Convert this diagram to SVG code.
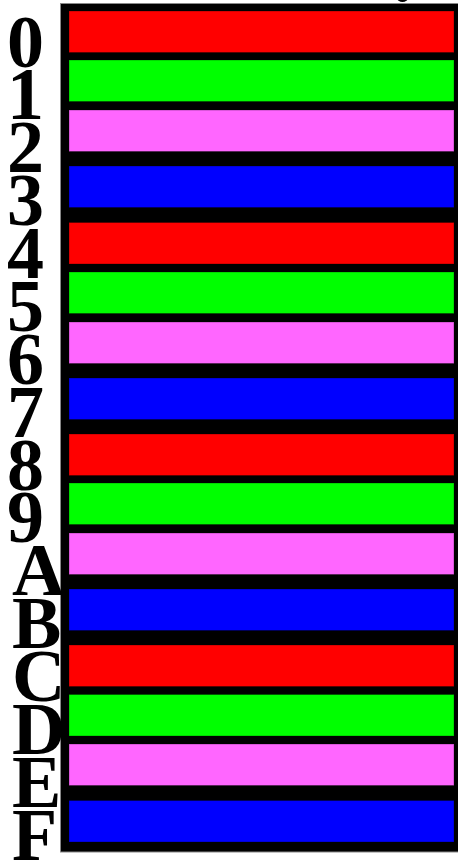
<svg xmlns="http://www.w3.org/2000/svg" width="458" height="864" viewBox="0 0 458 864">
<style>
.lbl{font-family:"Liberation Serif","Times New Roman",serif;font-weight:bold;font-size:74px;fill:#000}
.bar{stroke:#000;stroke-opacity:0.3;stroke-width:1}
.r{fill:#ff0000}.g{fill:#00ff00}.p{fill:#ff66ff}.b{fill:#0000ff}
</style>
<rect width="458" height="864" fill="#fff"/>
<ellipse cx="402.5" cy="-2" rx="5.5" ry="4" fill="#000"/>
<g id="frame"><rect x="60.5" y="3.5" width="402" height="848.5" fill="#000" stroke="#888" stroke-width="1"/></g>
<g id="row0"><rect class="bar r" x="69" y="11" width="385" height="41.5"/><text class="lbl" x="7" y="66.5">0</text></g>
<g id="row1"><rect class="bar g" x="69" y="60" width="385" height="41.5"/><text class="lbl" x="7" y="119.4">1</text></g>
<g id="row2"><rect class="bar p" x="69" y="110" width="385" height="41.5"/><text class="lbl" x="7" y="172.2">2</text></g>
<g id="row3"><rect class="bar b" x="69" y="166" width="385" height="41.5"/><text class="lbl" x="7" y="225.1">3</text></g>
<g id="row4"><rect class="bar r" x="69" y="222.5" width="385" height="41.5"/><text class="lbl" x="7" y="278">4</text></g>
<g id="row5"><rect class="bar g" x="69" y="272" width="385" height="41.5"/><text class="lbl" x="7" y="330.9">5</text></g>
<g id="row6"><rect class="bar p" x="69" y="322" width="385" height="41.5"/><text class="lbl" x="7" y="383.7">6</text></g>
<g id="row7"><rect class="bar b" x="69" y="378" width="385" height="41.5"/><text class="lbl" x="7" y="436.6">7</text></g>
<g id="row8"><rect class="bar r" x="69" y="434" width="385" height="41.5"/><text class="lbl" x="7" y="489.5">8</text></g>
<g id="row9"><rect class="bar g" x="69" y="483" width="385" height="41.5"/><text class="lbl" x="7" y="542.3">9</text></g>
<g id="rowA"><rect class="bar p" x="69" y="533" width="385" height="41.5"/><text class="lbl" x="12" y="595.2">A</text></g>
<g id="rowB"><rect class="bar b" x="69" y="589" width="385" height="41.5"/><text class="lbl" x="12" y="648.1">B</text></g>
<g id="rowC"><rect class="bar r" x="69" y="645" width="385" height="41.5"/><text class="lbl" x="12" y="700.9">C</text></g>
<g id="rowD"><rect class="bar g" x="69" y="694.5" width="385" height="41.5"/><text class="lbl" x="12" y="753.8">D</text></g>
<g id="rowE"><rect class="bar p" x="69" y="744" width="385" height="41.5"/><text class="lbl" x="12" y="806.7">E</text></g>
<g id="rowF"><rect class="bar b" x="69" y="800.5" width="385" height="41.5"/><text class="lbl" x="12" y="859.5">F</text></g>
</svg>
